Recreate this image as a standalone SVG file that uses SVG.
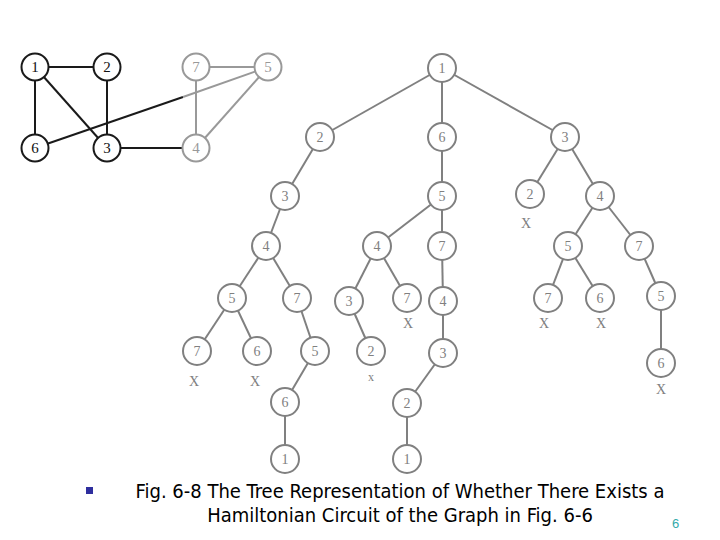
<svg xmlns="http://www.w3.org/2000/svg" width="720" height="540" viewBox="0 0 720 540">
<style>
.gk{fill:#fff;stroke:#1a1a1a;stroke-width:2}
.gg{fill:#fff;stroke:#999;stroke-width:2}
.ek{stroke:#1a1a1a;stroke-width:2;fill:none}
.eg{stroke:#999;stroke-width:2;fill:none}
.tk{font-family:"Liberation Serif",serif;font-size:15px;fill:#111;text-anchor:middle}
.tg{font-family:"Liberation Serif",serif;font-size:15px;fill:#999;text-anchor:middle}
.tn{fill:#fff;stroke:#808080;stroke-width:2}
.te{stroke:#808080;stroke-width:2;fill:none}
.tt{font-family:"Liberation Serif",serif;font-size:14px;fill:#808080;text-anchor:middle}
.x{font-family:"Liberation Serif",serif;font-size:14px;fill:#808080;text-anchor:middle}
.cap{font-family:"DejaVu Sans Condensed","DejaVu Sans",sans-serif;font-size:20px;fill:#000;text-anchor:middle}
</style>
<g id="graph-edges">
<line class="ek" x1="35" y1="67" x2="107" y2="67"/>
<line class="ek" x1="35" y1="67" x2="35" y2="148"/>
<line class="ek" x1="35" y1="67" x2="107" y2="148"/>
<line class="ek" x1="107" y1="67" x2="107" y2="148"/>
<line class="ek" x1="107" y1="148" x2="196" y2="148"/>
<line class="ek" x1="35" y1="148" x2="183" y2="97"/>
<line class="eg" x1="183" y1="97" x2="268" y2="67"/>
<line class="eg" x1="196" y1="67" x2="268" y2="67"/>
<line class="eg" x1="196" y1="67" x2="196" y2="148"/>
<line class="eg" x1="268" y1="67" x2="196" y2="148"/>
</g>
<g id="g1"><circle class="gk" cx="35" cy="67" r="13.5"/><text class="tk" x="35" y="72">1</text></g>
<g id="g2"><circle class="gk" cx="107" cy="67" r="13.5"/><text class="tk" x="107" y="72">2</text></g>
<g id="g7"><circle class="gg" cx="196" cy="67" r="13.5"/><text class="tg" x="196" y="72">7</text></g>
<g id="g5"><circle class="gg" cx="268" cy="67" r="13.5"/><text class="tg" x="268" y="72">5</text></g>
<g id="g6"><circle class="gk" cx="35" cy="148" r="13.5"/><text class="tk" x="35" y="153">6</text></g>
<g id="g3"><circle class="gk" cx="107" cy="148" r="13.5"/><text class="tk" x="107" y="153">3</text></g>
<g id="g4"><circle class="gg" cx="196" cy="148" r="13.5"/><text class="tg" x="196" y="153">4</text></g>

<g id="tree-edges">
<line class="te" x1="442" y1="68" x2="320" y2="137"/>
<line class="te" x1="442" y1="68" x2="442" y2="137"/>
<line class="te" x1="442" y1="68" x2="565" y2="137"/>
<line class="te" x1="320" y1="137" x2="285" y2="196"/>
<line class="te" x1="442" y1="137" x2="442" y2="196"/>
<line class="te" x1="565" y1="137" x2="530" y2="194"/>
<line class="te" x1="565" y1="137" x2="600" y2="196"/>
<line class="te" x1="285" y1="196" x2="266" y2="246"/>
<line class="te" x1="442" y1="196" x2="377" y2="246"/>
<line class="te" x1="442" y1="196" x2="442" y2="246"/>
<line class="te" x1="600" y1="196" x2="568" y2="246"/>
<line class="te" x1="600" y1="196" x2="639" y2="246"/>
<line class="te" x1="266" y1="246" x2="232" y2="298"/>
<line class="te" x1="266" y1="246" x2="297" y2="298"/>
<line class="te" x1="377" y1="246" x2="349" y2="301"/>
<line class="te" x1="377" y1="246" x2="407" y2="298"/>
<line class="te" x1="442" y1="246" x2="443" y2="301"/>
<line class="te" x1="568" y1="246" x2="548" y2="298"/>
<line class="te" x1="568" y1="246" x2="600" y2="298"/>
<line class="te" x1="639" y1="246" x2="661" y2="296"/>
<line class="te" x1="232" y1="298" x2="197" y2="351"/>
<line class="te" x1="232" y1="298" x2="257" y2="351"/>
<line class="te" x1="297" y1="298" x2="315" y2="351"/>
<line class="te" x1="349" y1="301" x2="371" y2="351"/>
<line class="te" x1="443" y1="301" x2="443" y2="353"/>
<line class="te" x1="661" y1="296" x2="661" y2="363"/>
<line class="te" x1="315" y1="351" x2="285" y2="402"/>
<line class="te" x1="443" y1="353" x2="407" y2="403"/>
<line class="te" x1="285" y1="402" x2="285" y2="459"/>
<line class="te" x1="407" y1="403" x2="407" y2="459"/>
</g>

<g id="t-1"><circle class="tn" cx="442" cy="68" r="14"/><text class="tt" x="442" y="73">1</text></g>
<g id="t-2"><circle class="tn" cx="320" cy="137" r="14"/><text class="tt" x="320" y="142">2</text></g>
<g id="t-6"><circle class="tn" cx="442" cy="137" r="14"/><text class="tt" x="442" y="142">6</text></g>
<g id="t-3"><circle class="tn" cx="565" cy="137" r="14"/><text class="tt" x="565" y="142">3</text></g>
<g id="t-23"><circle class="tn" cx="285" cy="196" r="14"/><text class="tt" x="285" y="201">3</text></g>
<g id="t-65"><circle class="tn" cx="442" cy="196" r="14"/><text class="tt" x="442" y="201">5</text></g>
<g id="t-32"><circle class="tn" cx="530" cy="194" r="14"/><text class="tt" x="530" y="199">2</text><text class="x" x="526" y="228">X</text></g>
<g id="t-34"><circle class="tn" cx="600" cy="196" r="14"/><text class="tt" x="600" y="201">4</text></g>
<g id="t-234"><circle class="tn" cx="266" cy="246" r="14"/><text class="tt" x="266" y="251">4</text></g>
<g id="t-654"><circle class="tn" cx="377" cy="246" r="14"/><text class="tt" x="377" y="251">4</text></g>
<g id="t-657"><circle class="tn" cx="442" cy="246" r="14"/><text class="tt" x="442" y="251">7</text></g>
<g id="t-345"><circle class="tn" cx="568" cy="246" r="14"/><text class="tt" x="568" y="251">5</text></g>
<g id="t-347"><circle class="tn" cx="639" cy="246" r="14"/><text class="tt" x="639" y="251">7</text></g>
<g id="t-2345"><circle class="tn" cx="232" cy="298" r="14"/><text class="tt" x="232" y="303">5</text></g>
<g id="t-2347"><circle class="tn" cx="297" cy="298" r="14"/><text class="tt" x="297" y="303">7</text></g>
<g id="t-6543"><circle class="tn" cx="349" cy="301" r="14"/><text class="tt" x="349" y="306">3</text></g>
<g id="t-6547"><circle class="tn" cx="407" cy="298" r="14"/><text class="tt" x="407" y="303">7</text><text class="x" x="408" y="328">X</text></g>
<g id="t-6574"><circle class="tn" cx="443" cy="301" r="14"/><text class="tt" x="443" y="306">4</text></g>
<g id="t-3457"><circle class="tn" cx="548" cy="298" r="14"/><text class="tt" x="548" y="303">7</text><text class="x" x="544" y="328">X</text></g>
<g id="t-3456"><circle class="tn" cx="600" cy="298" r="14"/><text class="tt" x="600" y="303">6</text><text class="x" x="601" y="328">X</text></g>
<g id="t-3475"><circle class="tn" cx="661" cy="296" r="14"/><text class="tt" x="661" y="301">5</text></g>
<g id="t-23457"><circle class="tn" cx="197" cy="351" r="14"/><text class="tt" x="197" y="356">7</text><text class="x" x="194" y="386">X</text></g>
<g id="t-23456"><circle class="tn" cx="257" cy="351" r="14"/><text class="tt" x="257" y="356">6</text><text class="x" x="255" y="386">X</text></g>
<g id="t-23475"><circle class="tn" cx="315" cy="351" r="14"/><text class="tt" x="315" y="356">5</text></g>
<g id="t-65432"><circle class="tn" cx="371" cy="351" r="14"/><text class="tt" x="371" y="356">2</text><text class="x" x="371" y="381" style="font-size:12px">x</text></g>
<g id="t-65743"><circle class="tn" cx="443" cy="353" r="14"/><text class="tt" x="443" y="358">3</text></g>
<g id="t-34756"><circle class="tn" cx="661" cy="363" r="14"/><text class="tt" x="661" y="368">6</text><text class="x" x="661" y="394">X</text></g>
<g id="t-234756"><circle class="tn" cx="285" cy="402" r="14"/><text class="tt" x="285" y="407">6</text></g>
<g id="t-657432"><circle class="tn" cx="407" cy="403" r="14"/><text class="tt" x="407" y="408">2</text></g>
<g id="t-2347561"><circle class="tn" cx="285" cy="459" r="14"/><text class="tt" x="285" y="464">1</text></g>
<g id="t-6574321"><circle class="tn" cx="407" cy="459" r="14"/><text class="tt" x="407" y="464">1</text></g>

<g id="caption">
<rect x="86" y="487" width="7" height="7" fill="#2e2e9e"/>
<text class="cap" x="400" y="498">Fig. 6-8 The Tree Representation of Whether There Exists a</text>
<text class="cap" x="400" y="522">Hamiltonian Circuit of the Graph in Fig. 6-6</text>
<text x="672" y="528" style="font-family:'Liberation Sans',sans-serif;font-size:13px;fill:#33aaaa">6</text>
</g>
</svg>
